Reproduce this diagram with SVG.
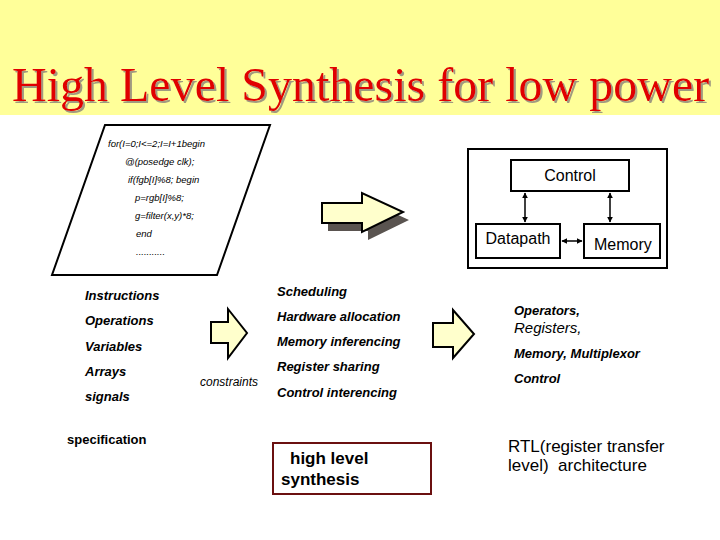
<svg xmlns="http://www.w3.org/2000/svg" width="720" height="540" viewBox="0 0 720 540">
<defs>
<style>
.code{font-family:"Liberation Sans",Arial,sans-serif;font-size:9.5px;font-style:italic;fill:#000}
.bi{font-family:"Liberation Sans",Arial,sans-serif;font-size:13px;font-style:italic;font-weight:bold;fill:#000}
.lab{font-family:"Liberation Sans",Arial,sans-serif;font-size:16px;fill:#000}
.box{fill:#fff;stroke:#000;stroke-width:2}
.arr{fill:#ffffcc;stroke:#000;stroke-width:2;stroke-linejoin:miter}
.conn{stroke:#000;stroke-width:1.5;fill:none}
</style>
<filter id="shadow" x="-5%" y="-20%" width="110%" height="140%">
<feDropShadow dx="2" dy="2" stdDeviation="0.3" flood-color="#a09a80" flood-opacity="1"/>
</filter>
<marker id="ah" viewBox="0 0 10 10" refX="9" refY="5" markerWidth="6" markerHeight="6" orient="auto-start-reverse" markerUnits="userSpaceOnUse">
<path d="M0,0 L10,5 L0,10 Z" fill="#000"/>
</marker>
</defs>
<rect x="0" y="0" width="720" height="540" fill="#fff"/>
<rect x="0" y="0" width="720" height="115" fill="#ffff99"/>
<g id="title">
<text x="12" y="101" font-family="'Liberation Serif','Times New Roman',serif" font-size="48" fill="#e00000" filter="url(#shadow)">High Level Synthesis for low power</text>
</g>
<g id="code">
<polygon points="105,125 270,125 217,275 52,275" fill="#fff" stroke="#000" stroke-width="2"/>
<text class="code" x="108" y="147">for(I=0;I&lt;=2;I=I+1begin</text>
<text class="code" x="125" y="165">@(posedge clk);</text>
<text class="code" x="128" y="183">if(fgb[I]%8; begin</text>
<text class="code" x="135" y="201">p=rgb[I]%8;</text>
<text class="code" x="135" y="219">g=filter(x,y)*8;</text>
<text class="code" x="136" y="237">end</text>
<text class="code" x="136" y="255">...........</text>
</g>
<g id="big-arrow">
<polygon points="328,211 368,211 368,201 409,220 368,240 368,231 328,231" fill="#5a5450"/>
<polygon class="arr" points="322,203 362,203 362,193 403,212 362,232 362,223 322,223"/>
</g>
<g id="architecture">
<rect class="box" x="468" y="149" width="199" height="119"/>
<g id="control"><rect class="box" x="511" y="160" width="118" height="31"/><text class="lab" x="570" y="181" text-anchor="middle">Control</text></g>
<g id="datapath"><rect class="box" x="476" y="224" width="84" height="34"/><text class="lab" x="518" y="244" text-anchor="middle">Datapath</text></g>
<g id="memory"><rect class="box" x="584" y="224" width="76" height="34"/><text class="lab" x="594" y="250">Memory</text></g>
</g>
<g id="connectors">
<line class="conn" x1="525" y1="193" x2="525" y2="222" marker-start="url(#ah)" marker-end="url(#ah)"/>
<line class="conn" x1="610" y1="193" x2="610" y2="222" stroke-width="2.5" marker-start="url(#ah)" marker-end="url(#ah)"/>
<line class="conn" x1="562" y1="241" x2="582" y2="241" marker-start="url(#ah)" marker-end="url(#ah)"/>
</g>
<g id="spec">
<text class="bi" x="85" y="300">Instructions</text>
<text class="bi" x="85" y="325">Operations</text>
<text class="bi" x="85" y="351">Variables</text>
<text class="bi" x="85" y="376">Arrays</text>
<text class="bi" x="85" y="401">signals</text>
<text x="67" y="444" font-family="'Liberation Sans',Arial,sans-serif" font-size="13" font-weight="bold">specification</text>
</g>
<g id="arrow2">
<polygon class="arr" points="211,322 228,322 228,309 247,333 228,358 228,343 211,343"/>
</g>
<text x="200" y="386" font-family="'Liberation Sans',Arial,sans-serif" font-size="12" font-style="italic">constraints</text>
<g id="tasks">
<text class="bi" x="277" y="296">Scheduling</text>
<text class="bi" x="277" y="321">Hardware allocation</text>
<text class="bi" x="277" y="346">Memory inferencing</text>
<text class="bi" x="277" y="371">Register sharing</text>
<text class="bi" x="277" y="397">Control interencing</text>
</g>
<g id="hls">
<rect x="273" y="443" width="158" height="51" fill="#fff" stroke="#6b1010" stroke-width="2"/>
<text x="290" y="464" font-family="'Liberation Sans',Arial,sans-serif" font-size="17" font-weight="bold">high level</text>
<text x="281" y="485" font-family="'Liberation Sans',Arial,sans-serif" font-size="17" font-weight="bold">synthesis</text>
</g>
<g id="arrow3">
<polygon class="arr" points="433,323 453,323 453,310 474,334 453,358 453,347 433,347"/>
</g>
<g id="rtl">
<text class="bi" x="514" y="315">Operators,</text>
<text x="514" y="333" font-family="'Liberation Sans',Arial,sans-serif" font-size="15" font-style="italic">Registers,</text>
<text class="bi" x="514" y="358">Memory, Multiplexor</text>
<text class="bi" x="514" y="383">Control</text>
<text x="508" y="452" font-family="'Liberation Sans',Arial,sans-serif" font-size="17">RTL(register transfer</text>
<text x="508" y="471" font-family="'Liberation Sans',Arial,sans-serif" font-size="17">level)&#160; architecture</text>
</g>
</svg>
